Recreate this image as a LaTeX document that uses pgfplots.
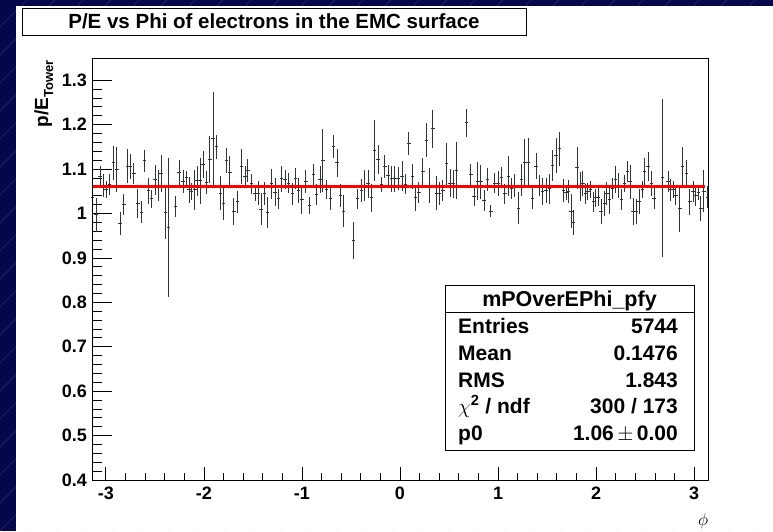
\documentclass[border=0pt]{standalone}
\usepackage{pgfplots}
\usepackage{pgfplotstable}
\pgfplotsset{compat=1.18}
\usepackage{fontspec}
\setmainfont{Liberation Sans}
\definecolor{slide}{RGB}{6,6,74}
\definecolor{hatch}{RGB}{50,50,115}

\pgfplotstableread{
x y e
-3.134 1.037 0.026
-3.100 0.997 0.038
-3.059 1.084 0.023
-3.025 1.063 0.025
-2.997 1.053 0.019
-2.963 1.065 0.024
-2.922 1.114 0.038
-2.888 1.099 0.051
-2.854 0.978 0.026
-2.816 1.020 0.023
-2.782 1.107 0.038
-2.748 1.105 0.028
-2.714 1.090 0.024
-2.673 1.022 0.032
-2.639 1.003 0.024
-2.605 1.119 0.025
-2.567 1.051 0.030
-2.537 1.033 0.020
-2.499 1.076 0.034
-2.468 1.063 0.036
-2.438 1.090 0.041
-2.390 1.003 0.060
-2.359 0.968 0.157
-2.288 1.015 0.024
-2.254 1.092 0.028
-2.213 1.071 0.026
-2.178 1.080 0.015
-2.151 1.053 0.030
-2.127 1.050 0.019
-2.093 1.053 0.045
-2.069 1.074 0.034
-2.035 1.074 0.052
-2.008 1.111 0.030
-1.974 1.069 0.026
-1.940 1.122 0.053
-1.906 1.169 0.105
-1.871 1.150 0.027
-1.830 1.046 0.038
-1.803 1.023 0.038
-1.769 1.119 0.028
-1.735 1.093 0.036
-1.694 1.005 0.030
-1.660 1.026 0.024
-1.615 1.106 0.039
-1.581 1.084 0.023
-1.551 1.096 0.026
-1.513 1.067 0.023
-1.479 1.046 0.019
-1.445 1.046 0.028
-1.418 1.010 0.036
-1.384 1.044 0.026
-1.349 1.002 0.034
-1.308 1.067 0.034
-1.274 1.048 0.032
-1.240 1.033 0.023
-1.206 1.078 0.030
-1.172 1.076 0.021
-1.138 1.068 0.023
-1.097 1.044 0.024
-1.063 1.078 0.024
-1.035 1.052 0.028
-1.001 1.031 0.032
-0.960 1.071 0.026
-0.926 1.018 0.019
-0.885 1.087 0.024
-0.851 1.042 0.024
-0.814 1.076 0.030
-0.786 1.120 0.071
-0.752 1.054 0.021
-0.711 1.033 0.026
-0.677 1.150 0.026
-0.643 1.114 0.032
-0.609 1.041 0.026
-0.575 1.005 0.036
-0.473 0.939 0.041
-0.432 1.033 0.023
-0.394 1.052 0.026
-0.360 1.063 0.036
-0.326 1.067 0.032
-0.292 1.035 0.032
-0.258 1.142 0.068
-0.223 1.122 0.032
-0.189 1.065 0.017
-0.155 1.105 0.026
-0.121 1.086 0.023
-0.087 1.078 0.030
-0.053 1.078 0.030
-0.019 1.078 0.026
0.022 1.084 0.034
0.056 1.066 0.023
0.090 1.157 0.026
0.125 1.084 0.028
0.159 1.035 0.030
0.193 1.047 0.023
0.234 1.095 0.030
0.268 1.165 0.038
0.302 1.063 0.039
0.336 1.191 0.043
0.370 1.046 0.039
0.404 1.044 0.026
0.438 1.052 0.024
0.476 1.112 0.047
0.510 1.068 0.032
0.544 1.067 0.032
0.578 1.097 0.064
0.681 1.204 0.031
0.722 1.088 0.024
0.756 1.039 0.023
0.790 1.073 0.043
0.824 1.071 0.039
0.858 1.029 0.024
0.892 1.076 0.026
0.926 1.005 0.013
0.967 1.068 0.023
1.001 1.068 0.028
1.035 1.081 0.024
1.070 1.044 0.023
1.104 1.084 0.045
1.138 1.056 0.024
1.172 1.063 0.026
1.206 1.012 0.036
1.240 1.076 0.036
1.274 1.114 0.054
1.308 1.116 0.053
1.353 1.033 0.024
1.387 1.107 0.030
1.421 1.063 0.023
1.455 1.050 0.030
1.489 1.052 0.028
1.523 1.056 0.034
1.558 1.108 0.034
1.592 1.131 0.039
1.626 1.146 0.038
1.667 1.052 0.026
1.694 1.048 0.017
1.721 1.050 0.026
1.745 1.005 0.038
1.769 0.980 0.028
1.807 1.103 0.047
1.837 1.061 0.032
1.865 1.067 0.028
1.892 1.044 0.023
1.916 1.050 0.019
1.943 1.054 0.019
1.974 1.026 0.023
1.994 1.035 0.021
2.025 1.037 0.021
2.052 1.005 0.028
2.086 1.022 0.028
2.110 1.044 0.026
2.137 1.031 0.032
2.165 1.056 0.024
2.199 1.076 0.030
2.226 1.063 0.028
2.260 1.031 0.024
2.291 1.068 0.019
2.318 1.095 0.024
2.346 1.071 0.038
2.376 1.005 0.030
2.410 1.005 0.028
2.438 1.026 0.028
2.472 1.053 0.019
2.496 1.095 0.030
2.530 1.106 0.032
2.564 1.068 0.028
2.591 1.033 0.024
2.677 1.080 0.178
2.735 1.072 0.024
2.762 1.053 0.024
2.786 1.053 0.019
2.813 1.041 0.023
2.854 1.011 0.053
2.881 1.105 0.045
2.922 1.090 0.030
2.956 1.026 0.030
2.990 1.050 0.024
3.018 1.041 0.024
3.042 1.048 0.017
3.069 1.012 0.028
3.100 1.050 0.047
3.134 1.037 0.024
}\profile

\begin{document}
\begin{tikzpicture}[x=1pt,y=1pt]
\useasboundingbox (0,0) rectangle (773,531);
\fill[slide] (0,0) rectangle (773,531);
\begin{scope}
\clip (0,0) rectangle (773,531);
\foreach \i in {-560,-532,...,800} \draw[hatch, line width=0.6pt] (\i,0) -- ++(560,560);
\end{scope}
\fill[white] (16,0) rectangle (773,525);
% title box
\draw[black, line width=0.8pt, fill=white] (22,496) rectangle (526,523);
\node[inner sep=0] at (274,509.5) {\fontsize{20.5}{20.5}\selectfont\bfseries P/E vs Phi of electrons in the EMC surface};

% main axis: data, y ticks
\begin{axis}[
  at={(92pt,51pt)}, anchor=south west,
  scale only axis, width=616pt, height=422pt,
  xmin=-3.14159, xmax=3.14159, ymin=0.4, ymax=1.35,
  axis line style={line width=0.9pt},
  tick align=inside, tick pos=left,
  xtick=\empty,
  ytick={0.4,0.5,0.6,0.7,0.8,0.9,1,1.1,1.2,1.3},
  yticklabels={0.4,0.5,0.6,0.7,0.8,0.9,1,1.1,1.2,1.3},
  minor y tick num=4,
  major tick length=20pt, minor tick length=10pt,
  tick style={black, line width=0.8pt},
  yticklabel style={font=\fontsize{18}{18}\selectfont\bfseries, inner sep=0pt, xshift=-5pt},
  clip=false,
]
\addplot[draw=none, mark=none,
  error bars/.cd, x dir=both, x fixed=0.01745, y dir=both, y explicit,
  error mark=none, error bar style={draw=black!80, line width=0.9pt}]
  table[x=x, y=y, y error=e] {\profile};
\addplot[red, line width=2.4pt] coordinates {(-3.1416,1.0605) (3.11,1.0605)};
\end{axis}

% overlay axis: x ticks
\begin{axis}[
  at={(92pt,51pt)}, anchor=south west,
  scale only axis, width=616pt, height=422pt,
  xmin=-3.14159, xmax=3.14159, ymin=0.4, ymax=1.35,
  axis line style={line width=0.9pt},
  tick align=inside, tick pos=left,
  ytick=\empty,
  xtick={-3,-2,-1,0,1,2,3},
  xticklabels={-3,-2,-1,0,1,2,3},
  minor x tick num=4,
  major tick length=13pt, minor tick length=7pt,
  tick style={black, line width=0.8pt},
  xticklabel style={font=\fontsize{18}{18}\selectfont\bfseries, inner sep=0pt, yshift=-7pt},
]
\end{axis}

% axis titles
\node[rotate=90, anchor=base east, inner sep=0] at (48,471) {\bfseries\fontsize{19}{19}\selectfont p/E\raisebox{-5pt}{\fontsize{13}{13}\selectfont Tower}};
\node[inner sep=0] at (703,10) {\fontsize{17}{17}\selectfont$\phi$};

% stats box
\draw[black, line width=0.8pt, fill=white] (445,81) rectangle (694,246);
\draw[black, line width=0.8pt] (445,219) -- (694,219);
\node[anchor=base, inner sep=0] at (569.5,225) {\fontsize{21.5}{21.5}\selectfont\bfseries mPOverEPhi\_pfy};
\begin{scope}[every node/.style={inner sep=0, font=\fontsize{21}{21}\selectfont\bfseries}]
\node[anchor=base west] at (458,198) {Entries};
\node[anchor=base east] at (678,198) {5744};
\node[anchor=base west] at (458,171) {Mean};
\node[anchor=base east] at (678,171) {0.1476};
\node[anchor=base west] at (458,144) {RMS};
\node[anchor=base east] at (678,144) {1.843};
\node[anchor=base west] at (458,118) {$\chi$\textsuperscript{2} / ndf};
\node[anchor=base east] at (678,118) {300 / 173};
\node[anchor=base west] at (458,91) {p0};
\node[anchor=base east] at (678,91) {1.06$\,\pm\,$0.00};
\end{scope}
\end{tikzpicture}
\end{document}
